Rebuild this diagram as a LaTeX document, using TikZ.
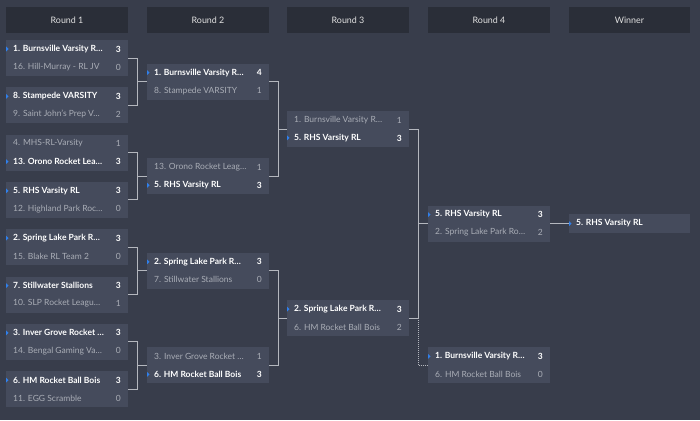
\documentclass[tikz,border=0pt]{standalone}
\usepackage{fontspec}
\setmainfont{Lato}
\definecolor{bg}{HTML}{383D4B}
\definecolor{headbg}{HTML}{2A2E38}
\definecolor{boxbg}{HTML}{454B5C}
\definecolor{linec}{HTML}{B4B7BE}
\definecolor{losec}{HTML}{A9ADB6}
\definecolor{markc}{HTML}{2F80ED}
\tikzset{
  matchbox/.style={fill=boxbg, draw=none, anchor=north west, inner sep=0, outer sep=0, minimum width=122pt, minimum height=36pt},
  winbox/.style={fill=boxbg, draw=none, anchor=north west, inner sep=0, outer sep=0, minimum width=121pt, minimum height=19pt},
  headbox/.style={fill=headbg, draw=none, anchor=north west, inner sep=0, outer sep=0, minimum width=122pt, minimum height=26pt, text=white!88!black, font=\fontsize{8.9}{10}\selectfont},
  win/.style={inner sep=0, text=white, font=\fontsize{8.5}{10}\selectfont\bfseries},
  lose/.style={inner sep=0, text=losec, font=\fontsize{8.5}{10}\selectfont},
  conn/.style={draw=linec, line width=0.9pt},
  dotconn/.style={draw=linec, line width=0.9pt, dash pattern=on 1pt off 1pt}
}
\newcommand\bmatch[8]{%
  \node[matchbox] (#1) at (#2,#3) {};
  \ifnum#8=1
    \tikzset{rowA/.style={win}, rowB/.style={lose}}%
    \fill[markc] ([yshift=-6.5pt]#1.north west) -- ++(2.5,2.5) -- ++(-2.5,2.5) -- cycle;
  \else
    \tikzset{rowA/.style={lose}, rowB/.style={win}}%
    \fill[markc] ([yshift=-24.5pt]#1.north west) -- ++(2.5,2.5) -- ++(-2.5,2.5) -- cycle;
  \fi
  \node[rowA, anchor=west] (#1-a) at ([xshift=7pt,yshift=-9pt]#1.north west) {#4};
  \node[rowA, anchor=east] (#1-as) at ([xshift=-7pt,yshift=-9pt]#1.north east) {#5};
  \node[rowB, anchor=west] (#1-b) at ([xshift=7pt,yshift=-27pt]#1.north west) {#6};
  \node[rowB, anchor=east] (#1-bs) at ([xshift=-7pt,yshift=-27pt]#1.north east) {#7};
}
\begin{document}
\begin{tikzpicture}[x=1pt,y=-1pt]
\fill[bg] (0,0) rectangle (700,420);
\useasboundingbox (0,0) rectangle (700,420);
% headers
\node[headbox] (h1) at (6,7) {Round 1};
\node[headbox] (h2) at (147,7) {Round 2};
\node[headbox] (h3) at (287,7) {Round 3};
\node[headbox] (h4) at (428,7) {Round 4};
\node[headbox, minimum width=121pt] (h5) at (569,7) {Winner};
% round 1
\bmatch{r1m1}{6}{40}{1. Burnsville Varsity R…}{3}{16. Hill-Murray - RL JV}{0}{1}
\bmatch{r1m2}{6}{87.3}{8. Stampede VARSITY}{3}{9. Saint John's Prep V…}{2}{1}
\bmatch{r1m3}{6}{134.6}{4. MHS-RL-Varsity}{1}{13. Orono Rocket Lea…}{3}{2}
\bmatch{r1m4}{6}{181.9}{5. RHS Varsity RL}{3}{12. Highland Park Roc…}{0}{1}
\bmatch{r1m5}{6}{229.2}{2. Spring Lake Park R…}{3}{15. Blake RL Team 2}{0}{1}
\bmatch{r1m6}{6}{276.5}{7. Stillwater Stallions}{3}{10. SLP Rocket Leagu…}{1}{1}
\bmatch{r1m7}{6}{323.8}{3. Inver Grove Rocket …}{3}{14. Bengal Gaming Va…}{0}{1}
\bmatch{r1m8}{6}{371.1}{6. HM Rocket Ball Bois}{3}{11. EGG Scramble}{0}{1}
% round 2
\bmatch{r2m1}{147}{63.65}{1. Burnsville Varsity R…}{4}{8. Stampede VARSITY}{1}{1}
\bmatch{r2m2}{147}{158.25}{13. Orono Rocket Leag…}{1}{5. RHS Varsity RL}{3}{2}
\bmatch{r2m3}{147}{252.85}{2. Spring Lake Park R…}{3}{7. Stillwater Stallions}{0}{1}
\bmatch{r2m4}{147}{347.45}{3. Inver Grove Rocket …}{1}{6. HM Rocket Ball Bois}{3}{2}
% round 3
\bmatch{r3m1}{287}{110.95}{1. Burnsville Varsity R…}{1}{5. RHS Varsity RL}{3}{2}
\bmatch{r3m2}{287}{300.15}{2. Spring Lake Park R…}{3}{6. HM Rocket Ball Bois}{2}{1}
% round 4
\bmatch{r4m1}{428}{205.55}{5. RHS Varsity RL}{3}{2. Spring Lake Park Ro…}{2}{1}
\bmatch{r4m2}{428}{347.45}{1. Burnsville Varsity R…}{3}{6. HM Rocket Ball Bois}{0}{1}
% winner
\node[winbox] (win) at (569,214.05) {};
\fill[markc] ([yshift=-7pt]win.north west) -- ++(2.5,2.5) -- ++(-2.5,2.5) -- cycle;
\node[win, anchor=west] (win-t) at ([xshift=7pt]win.west) {5. RHS Varsity RL};
% connectors round 1 -> 2
\foreach \a/\b/\t in {r1m1/r1m2/r2m1, r1m3/r1m4/r2m2, r1m5/r1m6/r2m3, r1m7/r1m8/r2m4}{
  \path (\a.east) -- ++(9,0) coordinate (j-\a);
  \draw[conn] (\a.east) -- (j-\a) |- (\b.east);
  \draw[conn] (j-\a |- \t.west) -- (\t.west);
}
% round 2 -> 3
\foreach \a/\b/\t in {r2m1/r2m2/r3m1, r2m3/r2m4/r3m2}{
  \path (\a.east) -- ++(9,0) coordinate (j-\a);
  \draw[conn] (\a.east) -- (j-\a) |- (\b.east);
  \draw[conn] (j-\a |- \t.west) -- (\t.west);
}
% round 3 -> 4
\path (r3m1.east) -- ++(9,0) coordinate (j-r3m1);
\path (r3m2.east) -- ++(9,0) coordinate (j-r3m2);
\draw[conn] (r3m1.east) -- (j-r3m1) -- (j-r3m2) -- (r3m2.east);
\draw[conn] (j-r3m1 |- r4m1.west) -- (r4m1.west);
\draw[dotconn] (j-r3m2) |- (r4m2.west);
% round 4 -> winner
\draw[conn] (r4m1.east) -- (win.west);
\end{tikzpicture}
\end{document}
